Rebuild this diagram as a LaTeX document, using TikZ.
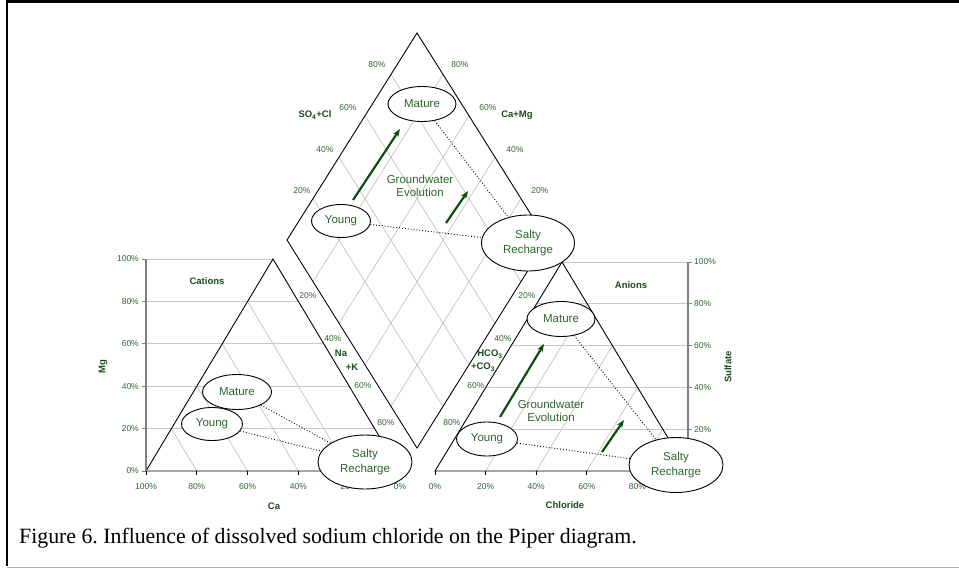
\documentclass[tikz,border=0pt]{standalone}
\usepackage{fontspec}
\setmainfont{Liberation Sans}
\newfontfamily\captionfont{Liberation Serif}
\usetikzlibrary{arrows.meta, calc, shapes.geometric}
\definecolor{PiperGreen}{HTML}{2D662D}
\definecolor{PiperDark}{HTML}{1E4A1E}
\definecolor{ArrowGreen}{HTML}{0D4D0D}
\definecolor{GridGrey}{HTML}{C8C8C8}
\definecolor{AxisGrey}{HTML}{7F7F7F}
\frenchspacing

\begin{document}
\begin{tikzpicture}[x=1pt, y=-1pt, >=Stealth,
  gridline/.style={GridGrey, line width=0.8pt},
  rim/.style={black, line width=0.9pt},
  pct/.style={font=\fontsize{8.5}{9}\selectfont, PiperGreen, inner sep=0pt},
  axtitle/.style={font=\fontsize{9.5}{10}\selectfont\bfseries, PiperDark, inner sep=0pt},
  stage/.style={ellipse, draw, fill=white, line width=0.9pt, inner sep=0pt,
    font=\fontsize{11.5}{14.5}\selectfont, text=PiperGreen, align=center},
  trend/.style={-{Stealth[length=8pt, width=6pt]}, ArrowGreen, line width=2.2pt},
  link/.style={dotted, line width=0.9pt},
]
  \useasboundingbox (0,0) rectangle (959,568);
  % Frame
  \draw[line width=2.5pt] (959,1.25) -- (7,1.25) -- (7,566);
  \draw[AxisGrey!60, line width=1pt] (7,567) -- (959,567);

  % Corners of the three plots
  \coordinate (catL) at (146,471);
  \coordinate (catR) at (400,471);
  \coordinate (catT) at (273,259);
  \coordinate (anL) at (435,471);
  \coordinate (anR) at (688,471);
  \coordinate (anT) at (562,262);
  \coordinate (dT) at (417,33);
  \coordinate (dL) at (287,240);
  \coordinate (dB) at (417,448);
  \coordinate (dR) at (547,240);

  % Grid lines
  \foreach \f in {0.2,0.4,0.6,0.8} {
    \draw[gridline] ($(dL)!\f!(dT)$) -- ($(dB)!\f!(dR)$);
    \draw[gridline] ($(dL)!\f!(dB)$) -- ($(dT)!\f!(dR)$);
    \draw[gridline] ($(catL)!\f!(catT)$) -- ($(catL)!\f!(catR)$);
    \draw[gridline] ($(anL)!\f!(anR)$) -- ($(anT)!\f!(anR)$);
  }
  \foreach \f in {0.2,0.4,0.6,0.8,1} {
    \coordinate (p) at ($(catR)!\f!(catT)$);
    \draw[gridline] (p -| catL) -- (p);
    \coordinate (q) at ($(anL)!\f!(anT)$);
    \draw[gridline] (q) -- (q -| anR);
  }

  % Outlines
  \draw[rim] (dT) -- (dR) -- (dB) -- (dL) -- cycle;
  \draw[rim] (catL) -- (catR) -- (catT) -- cycle;
  \draw[rim] (anL) -- (anR) -- (anT) -- cycle;

  % Axes and ticks
  \draw[AxisGrey, line width=1.5pt] (146,259) -- (catL);
  \draw[AxisGrey, line width=1.5pt] (688,262) -- (anR);
  \foreach \k [evaluate=\k as \p using int(20*\k)] in {0,...,5} {
    \draw[AxisGrey, line width=0.8pt] (146,{471-42.4*\k}) -- ++(-4,0);
    \node[pct, anchor=east] at (139,{471-42.4*\k}) {\p\%};
  }
  \foreach \k [evaluate=\k as \p using int(20*\k)] in {1,...,5} {
    \draw[AxisGrey, line width=0.8pt] (688,{471-41.8*\k}) -- ++(4,0);
    \node[pct, anchor=west] at (694,{471-41.8*\k}) {\p\%};
  }
  \foreach \k [evaluate=\k as \p using int(100-20*\k)] in {0,...,5} {
    \draw[line width=0.8pt] ({146+50.8*\k},471) -- ++(0,4);
    \node[pct] at ({146+50.8*\k},487) {\p\%};
  }
  \foreach \k [evaluate=\k as \p using int(20*\k)] in {0,...,4} {
    \draw[line width=0.8pt] ({435+50.6*\k},471) -- ++(0,4);
    \node[pct] at ({435+50.6*\k},487) {\p\%};
  }

  % Diamond scales
  \foreach \x/\y/\t in {377/65/80, 348/108/60, 325/150/40, 302/191/20,
      460/65/80, 488/108/60, 515/150/40, 540/191/20,
      308/296/20, 333/339/40, 363/386/60, 386/423/80,
      527/296/20, 503/339/40, 476/386/60, 452/423/80}
    \node[pct] at (\x,\y) {\t\%};

  % Axis titles
  \node[axtitle] (so4Lbl) at (315,115) {SO\textsubscript{4}+Cl};
  \node[axtitle] (camgLbl) at (517,115) {Ca+Mg};
  \node[axtitle] (naLbl) at (341,353) {Na};
  \node[axtitle] (kLbl) at (352,367) {+K};
  \node[axtitle] (hcoLbl) at (490,354) {HCO\textsubscript{3}};
  \node[axtitle] (coLbl) at (483,367) {+CO\textsubscript{3}};
  \node[axtitle] (catLbl) at (207,281) {Cations};
  \node[axtitle] (anLbl) at (631,285) {Anions};
  \node[axtitle, rotate=90] (mgLbl) at (103,367) {Mg};
  \node[axtitle, rotate=90] (so4Axis) at (728,367) {Sulfate};
  \node[axtitle] (caLbl) at (274,506) {Ca};
  \node[axtitle] (clLbl) at (565,505) {Chloride};

  % Evolution text
  \node[font=\fontsize{11.5}{13.5}\selectfont, text=PiperGreen, align=center]
    (evoTop) at (420,186) {Groundwater\\Evolution};
  \node[font=\fontsize{11.5}{13.5}\selectfont, text=PiperGreen, align=center]
    (evoAn) at (551,411) {Groundwater\\Evolution};

  % Water types
  \node[stage, minimum width=68, minimum height=35] (matTop) at (422,104) {Mature};
  \node[stage, minimum width=59, minimum height=33] (yngTop) at (341,221) {Young};
  \node[stage, minimum width=93, minimum height=56] (saltTop) at (528,243) {Salty\\Recharge};
  \node[stage, minimum width=69, minimum height=35] (matCat) at (237,392) {Mature};
  \node[stage, minimum width=61, minimum height=33] (yngCat) at (212,424) {Young};
  \node[stage, minimum width=94, minimum height=54] (saltCat) at (365,462) {Salty\\Recharge};
  \node[stage, minimum width=68, minimum height=35] (matAn) at (561,319) {Mature};
  \node[stage, minimum width=61, minimum height=34] (yngAn) at (487,439) {Young};
  \node[stage, minimum width=94, minimum height=55] (saltAn) at (676,465) {Salty\\Recharge};

  % Mixing with salty recharge
  \draw[link] (matTop) -- (saltTop);
  \draw[link] (yngTop) -- (saltTop);
  \draw[link] (matCat) -- (saltCat);
  \draw[link] (yngCat) -- (saltCat);
  \draw[link] (matAn) -- (saltAn);
  \draw[link] (yngAn) -- (saltAn);

  % Evolution arrows
  \coordinate (topArrA) at (353,200);
  \coordinate (topArrB) at (400,129);
  \coordinate (topArrC) at (446,223);
  \coordinate (topArrD) at (468,191);
  \coordinate (anArrA) at (500,417);
  \coordinate (anArrB) at (544,344);
  \coordinate (anArrC) at (602,452);
  \coordinate (anArrD) at (624,420);
  \draw[trend] (topArrA) -- (topArrB);
  \draw[trend] (topArrC) -- (topArrD);
  \draw[trend] (anArrA) -- (anArrB);
  \draw[trend] (anArrC) -- (anArrD);

  % Caption
  \node[anchor=west, inner sep=0pt, font=\captionfont\fontsize{21.8}{24}\selectfont]
    (caption) at (19,538) {Figure 6. Influence of dissolved sodium chloride on the Piper diagram.};
\end{tikzpicture}
\end{document}
